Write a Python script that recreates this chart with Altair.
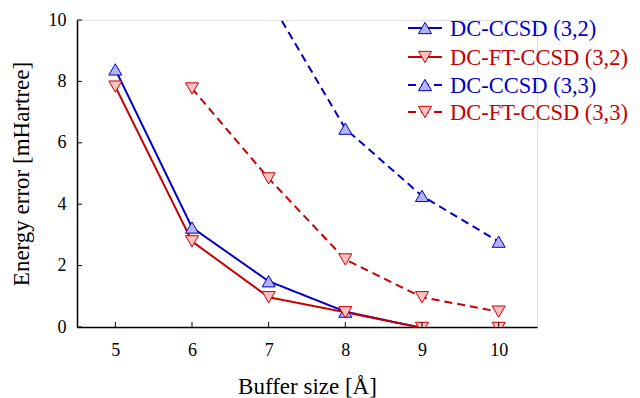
import altair as alt
import pandas as pd

# ---- data ----
series_names = ["DC-CCSD (3,2)", "DC-FT-CCSD (3,2)", "DC-CCSD (3,3)", "DC-FT-CCSD (3,3)"]
x_32 = [5, 6, 7, 8, 9, 10]
dc_ccsd_32 = [8.39, 3.24, 1.49, 0.50, -0.03, -0.03]
dc_ft_ccsd_32 = [7.83, 2.79, 0.97, 0.48, -0.03, -0.03]
x_33_dc = [7, 8, 9, 10]
dc_ccsd_33 = [10.7, 6.46, 4.27, 2.78]
x_33_ft = [6, 7, 8, 9, 10]
dc_ft_ccsd_33 = [7.77, 4.84, 2.2, 0.97, 0.5]
x_ticks = [5, 6, 7, 8, 9, 10]
y_ticks = [0, 2, 4, 6, 8, 10]

# ---- styling ----
line_colors = ["#0000c8", "#c80000", "#0000c8", "#c80000"]
fill_colors = ["#b4b4f4", "#ffc0c0", "#b4b4f4", "#ffc0c0"]
shapes = ["triangle-up", "triangle-down", "triangle-up", "triangle-down"]
dashes = [[1, 0], [1, 0], [8, 5], [8, 5]]
FONT = "Liberation Serif"
W, H = 460, 307

rows = []
for name, xs, ys in [
    (series_names[0], x_32, dc_ccsd_32),
    (series_names[1], x_32, dc_ft_ccsd_32),
    (series_names[2], x_33_dc, dc_ccsd_33),
    (series_names[3], x_33_ft, dc_ft_ccsd_33),
]:
    for xv, yv in zip(xs, ys):
        rows.append({"series": name, "x": xv, "y": yv})
df = pd.DataFrame(rows)

xscale = alt.Scale(domain=[4.5, 10.5], nice=False, zero=False)
yscale = alt.Scale(domain=[0, 10], nice=False, zero=False)

xaxis = alt.Axis(values=x_ticks, format="d", ticks=False, grid=False, labelFontSize=18,
                 labelBaseline="alphabetic", labelPadding=28, labelFont=FONT,
                 labelColor="black", title="Buffer size [Å]", titleFont=FONT,
                 titleFontSize=23, titleFontWeight="normal", titleColor="black",
                 titleBaseline="alphabetic", titleY=66, domainColor="black",
                 domainWidth=1.5)
yaxis = alt.Axis(values=y_ticks, format="d", ticks=False, grid=False, labelFontSize=18,
                 labelPadding=11, labelFont=FONT, labelColor="black",
                 title="Energy error [mHartree]", titleFont=FONT, titleFontSize=23,
                 titleFontWeight="normal", titleColor="black",
                 titleBaseline="alphabetic", titleX=-49, titleY=H / 2, titleAngle=-90,
                 domainColor="black", domainWidth=1.5)

color_scale = alt.Scale(domain=series_names, range=line_colors)

lines = alt.Chart(df).mark_line(clip=True, strokeWidth=2).encode(
    x=alt.X("x:Q", scale=xscale, axis=xaxis),
    y=alt.Y("y:Q", scale=yscale, axis=yaxis),
    color=alt.Color("series:N", scale=color_scale, legend=None),
    strokeDash=alt.StrokeDash("series:N", scale=alt.Scale(domain=series_names, range=dashes), legend=None),
    detail="series:N",
)

points = alt.Chart(df).mark_point(clip=True, filled=True, size=170, strokeWidth=1, opacity=1).encode(
    x=alt.X("x:Q", scale=xscale),
    y=alt.Y("y:Q", scale=yscale),
    shape=alt.Shape("series:N", scale=alt.Scale(domain=series_names, range=shapes), legend=None),
    fill=alt.Fill("series:N", scale=alt.Scale(domain=series_names, range=fill_colors), legend=None),
    stroke=alt.Stroke("series:N", scale=color_scale, legend=None),
)

# inward ticks
xt = alt.Chart(pd.DataFrame({"t": x_ticks})).mark_rule(color="black", strokeWidth=1).encode(
    x=alt.X("t:Q", scale=xscale), y=alt.value(H), y2=alt.value(H - 5))
yt = alt.Chart(pd.DataFrame({"t": y_ticks})).mark_rule(color="black", strokeWidth=1).encode(
    y=alt.Y("t:Q", scale=yscale), x=alt.value(0), x2=alt.value(5))

# manual legend (inside plot, top right)
legend_layers = []
row_y = [8, 37, 65, 92]
for i, name in enumerate(series_names):
    d = pd.DataFrame({"label": [name]})
    base = alt.Chart(d)
    legend_layers.append(base.mark_rule(color=line_colors[i], strokeWidth=2, strokeDash=dashes[i]).encode(
        x=alt.value(331), x2=alt.value(365), y=alt.value(row_y[i])))
    legend_layers.append(base.mark_point(filled=True, size=170, strokeWidth=1, opacity=1,
                                         shape=shapes[i], fill=fill_colors[i], stroke=line_colors[i]).encode(
        x=alt.value(348), y=alt.value(row_y[i])))
    legend_layers.append(base.mark_text(align="left", baseline="middle", font=FONT, fontSize=22.5,
                                        color=line_colors[i]).encode(
        x=alt.value(373), y=alt.value(row_y[i] + 1), text="label:N"))

chart = alt.layer(lines, points, xt, yt, *legend_layers).properties(
    width=W, height=H,
    autosize=alt.AutoSizeParams(type="none"),
    padding={"left": 69, "top": 12, "right": 95, "bottom": 72},
).configure_view(stroke=None).configure(font=FONT, background="white")

chart.save("out.html", embed_options={"renderer": "svg", "actions": False})
